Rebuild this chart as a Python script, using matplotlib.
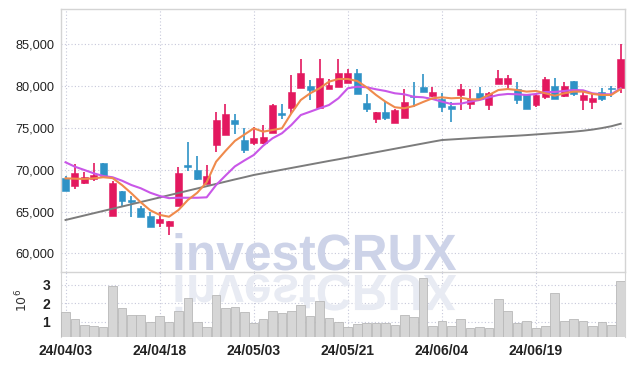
import matplotlib
matplotlib.use('Agg')
import matplotlib.pyplot as plt
from matplotlib.patches import Rectangle, PathPatch
from matplotlib.textpath import TextPath
from matplotlib.font_manager import FontProperties
from matplotlib.transforms import Affine2D
from matplotlib.ticker import FuncFormatter

# ---------------- data ----------------
dates = ["24/04/03", "24/04/04", "24/04/05", "24/04/08", "24/04/09", "24/04/11", "24/04/12",
         "24/04/15", "24/04/16", "24/04/17", "24/04/18", "24/04/19", "24/04/22", "24/04/23",
         "24/04/24", "24/04/25", "24/04/26", "24/04/29", "24/04/30", "24/05/02", "24/05/03",
         "24/05/07", "24/05/08", "24/05/09", "24/05/10", "24/05/13", "24/05/14", "24/05/16",
         "24/05/17", "24/05/20", "24/05/21", "24/05/22", "24/05/23", "24/05/24", "24/05/27",
         "24/05/28", "24/05/29", "24/05/30", "24/05/31", "24/06/03", "24/06/04", "24/06/05",
         "24/06/07", "24/06/10", "24/06/11", "24/06/12", "24/06/13", "24/06/14", "24/06/17",
         "24/06/18", "24/06/19", "24/06/20", "24/06/21", "24/06/24", "24/06/25", "24/06/26",
         "24/06/27", "24/06/28", "24/07/01", "24/07/02"]

opens = [69000, 68100, 68400, 68900, 70800, 64500, 67500, 66300, 65400, 64500,
         63600, 63300, 65700, 70600, 70000, 68300, 73000, 74100, 76000, 73600,
         73200, 73200, 74400, 76700, 77400, 79800, 80000, 77400, 79700, 79900,
         80400, 81600, 78000, 76100, 76900, 75600, 76200, 78700, 79900, 78800,
         78500, 77600, 78900, 77900, 79200, 77700, 80300, 80300, 79700, 79000,
         77700, 78700, 80000, 78800, 80600, 78300, 78100, 79300, 79700, 79800]
highs = [69300, 70700, 69700, 70800, 70800, 68700, 67500, 66800, 65700, 65000,
         64900, 63900, 70300, 73300, 71600, 70600, 76900, 77900, 76700, 75000,
         75100, 75300, 77900, 77800, 81300, 83200, 80700, 83200, 80900, 83300,
         82000, 82100, 79000, 76900, 78100, 77300, 79700, 80500, 81400, 79900,
         79200, 78100, 80200, 79700, 79900, 79300, 81900, 81300, 80500, 79100,
         79100, 81100, 81000, 80500, 80600, 79400, 79100, 79800, 80000, 85000]
lows = [67400, 67700, 68300, 68700, 69200, 64500, 65700, 64300, 64400, 63200,
        63200, 62200, 65700, 69800, 68800, 68300, 72100, 74100, 74300, 72000,
        73000, 73100, 74400, 76100, 76700, 79800, 78300, 77400, 79600, 79900,
        80400, 79100, 76900, 75600, 76000, 75600, 76200, 77500, 79300, 78700,
        76900, 75700, 77200, 77300, 78400, 77200, 80200, 79500, 77900, 77300,
        77500, 78500, 78500, 78700, 78800, 77200, 77300, 78200, 78700, 79200]
closes = [67400, 69600, 69100, 69400, 69200, 68400, 66300, 66200, 64400, 63200,
          64100, 63900, 69600, 70300, 68900, 69300, 76000, 76700, 75500, 72300,
          73800, 73900, 77700, 76600, 79300, 81600, 79500, 81000, 80100, 81600,
          81600, 79100, 77300, 76900, 76200, 77100, 78100, 78700, 79300, 79300,
          77500, 77300, 79700, 78500, 78400, 79200, 81000, 81000, 78300, 77300,
          78900, 80800, 78500, 80000, 79000, 78900, 78600, 78500, 79600, 83200]

ma_short = [68970, 68930, 68900, 68970, 69100, 69000, 68170, 67180, 66100, 65150,
            64600, 64380, 65180, 66380, 67250, 68500, 70960, 72250, 73450, 74200,
            74950, 74550, 74750, 74950, 76750, 78340, 79140, 79740, 80530, 80850,
            80850, 80610, 79860, 78940, 78140, 77470, 77350, 77620, 78100, 78540,
            78660, 78540, 78600, 78420, 78420, 78940, 79530, 79650, 79530, 79340,
            79420, 79140, 78850, 79140, 79340, 79340, 79060, 78940, 78940, 79650]
ma_mid = [70890, 70360, 69970, 69570, 69250, 69100, 68690, 68170, 67780, 67250,
          66860, 66600, 66650, 66650, 66650, 66700, 68170, 69300, 70400, 71100,
          71760, 72870, 73760, 74360, 75350, 76540, 76940, 77350, 77740, 78540,
          79740, 79930, 79860, 79620, 79420, 79140, 79020, 78730, 78660, 78460,
          78140, 77860, 77900, 78140, 78340, 78660, 78940, 79060, 79020, 78940,
          79060, 79300, 79300, 79420, 79530, 79500, 79140, 79020, 79020, 79740]
ma_long = [63990, 64260, 64530, 64800, 65070, 65340, 65600, 65870, 66140, 66410,
           66680, 66950, 67220, 67490, 67760, 68030, 68300, 68570, 68840, 69100,
           69370, 69580, 69790, 70000, 70210, 70420, 70630, 70840, 71050, 71250,
           71460, 71670, 71880, 72090, 72300, 72510, 72720, 72930, 73140, 73350,
           73550, 73620, 73690, 73760, 73830, 73890, 73950, 74010, 74070, 74140,
           74220, 74300, 74380, 74460, 74550, 74660, 74800, 74980, 75200, 75500]

volume_m = [1.51, 1.14, 0.82, 0.76, 0.71, 2.94, 1.74, 1.36, 1.36, 0.96,
            1.31, 0.96, 1.58, 2.27, 0.96, 0.71, 2.45, 1.74, 1.80, 1.51,
            0.91, 1.14, 1.56, 1.45, 1.56, 1.91, 1.31, 2.13, 1.18, 1.00,
            0.71, 0.86, 0.91, 0.91, 0.91, 0.80, 1.35, 1.24, 3.36, 0.75,
            1.02, 0.75, 1.13, 0.64, 0.69, 0.64, 2.22, 1.56, 0.91, 1.02,
            0.64, 0.75, 2.54, 1.02, 1.13, 1.02, 0.75, 0.96, 0.80, 3.21]

price_ticks = [60000, 65000, 70000, 75000, 80000, 85000]
volume_ticks = [1, 2, 3]
watermark = "investCRUX"

# ---------------- style ----------------
UP = '#e3185f'
DOWN = '#2e92c6'
C_SHORT = '#ef8a4c'
C_MID = '#c957e8'
C_LONG = '#7c7c7c'
GRID = '#c6c8da'
SPINE = '#d4d4d4'
TXT = '#222222'
FONT = ['Liberation Sans', 'DejaVu Sans']

W, H = 634, 366
fig = plt.figure(figsize=(W / 100, H / 100), dpi=100)
fig.patch.set_facecolor('white')
L, R = 61.3, 625.0
axp = fig.add_axes([L / W, (H - 272) / H, (R - L) / W, (272 - 9) / H])
axv = fig.add_axes([L / W, (H - 337) / H, (R - L) / W, (337 - 272) / H], sharex=axp)

n = len(dates)
xs = list(range(n))

# candles
for i in xs:
    o, h, l, c = opens[i], highs[i], lows[i], closes[i]
    col = UP if c > o else DOWN
    axp.vlines(i, l, h, color=col, lw=1.2, zorder=3)
    b = min(o, c)
    hh = max(abs(c - o), 150)
    axp.add_patch(Rectangle((i - 0.37, b), 0.74, hh, facecolor=col,
                            edgecolor=col, lw=0.4, zorder=4))

axp.plot(xs, ma_long, color=C_LONG, lw=1.4, zorder=5)
axp.plot(xs, ma_mid, color=C_MID, lw=1.5, zorder=5)
axp.plot(xs, ma_short, color=C_SHORT, lw=1.5, zorder=5)

axp.set_xlim(-0.45, 59.46)
axp.set_ylim(57770, 89220)
axp.set_yticks(price_ticks)
axp.yaxis.set_major_formatter(FuncFormatter(lambda v, p: f"{int(v):,}"))
tick_idx = list(range(0, n, 10))
axp.set_xticks(tick_idx)
axp.tick_params(axis='both', length=0, labelbottom=False)
axp.tick_params(axis='y', pad=5, labelsize=9.2, labelcolor=TXT)
for lab in axp.get_yticklabels():
    lab.set_family(FONT)
axp.grid(True, linestyle=(0, (1, 2)), color=GRID, lw=0.8, zorder=0)
axp.set_axisbelow(True)
for s in axp.spines.values():
    s.set_color(SPINE)
    s.set_linewidth(1.0)

# volume
axv.bar(xs, volume_m, width=0.92, color='#d6d6d6', edgecolor='#b8b8b8', lw=0.6, zorder=3)
axv.set_ylim(0.16, 3.71)
axv.set_yticks(volume_ticks)
axv.set_xticks(tick_idx)
axv.set_xticklabels([dates[i] for i in tick_idx])
axv.tick_params(axis='both', length=0)
axv.tick_params(axis='x', pad=5, labelsize=10, labelcolor=TXT)
axv.tick_params(axis='y', pad=8, labelsize=10, labelcolor=TXT)
for lab in axv.get_xticklabels() + axv.get_yticklabels():
    lab.set_family(FONT)
    lab.set_fontweight('bold')
axv.grid(True, linestyle=(0, (1, 2)), color=GRID, lw=0.8, zorder=0)
axv.set_axisbelow(True)
for k, s in axv.spines.items():
    s.set_color(SPINE)
axv.spines['bottom'].set_visible(False)
axv.spines['top'].set_visible(False)
axv.set_ylabel(r'$10^6$', fontsize=9, color='#333333')
axv.yaxis.set_label_coords((30 - L) / (R - L), 0.56)
axp.set_facecolor('none')
axv.set_facecolor('none')

# watermark with reflection
fp = FontProperties(family=['Liberation Sans', 'DejaVu Sans'], weight='bold')
tp = TextPath((0, 0), watermark, size=51, prop=fp)
axp.add_patch(PathPatch(tp, transform=Affine2D().scale(0.975, 1).translate(172, H - 270),
                        facecolor='#cdd3e8', edgecolor='none', clip_on=False, zorder=1))
axv.add_patch(PathPatch(tp, transform=Affine2D().scale(0.975, -1).translate(172, H - 275),
                        facecolor='#e8ebf3', edgecolor='none', clip_on=False, zorder=1))

fig.savefig('out.png', dpi=100, facecolor='white')
